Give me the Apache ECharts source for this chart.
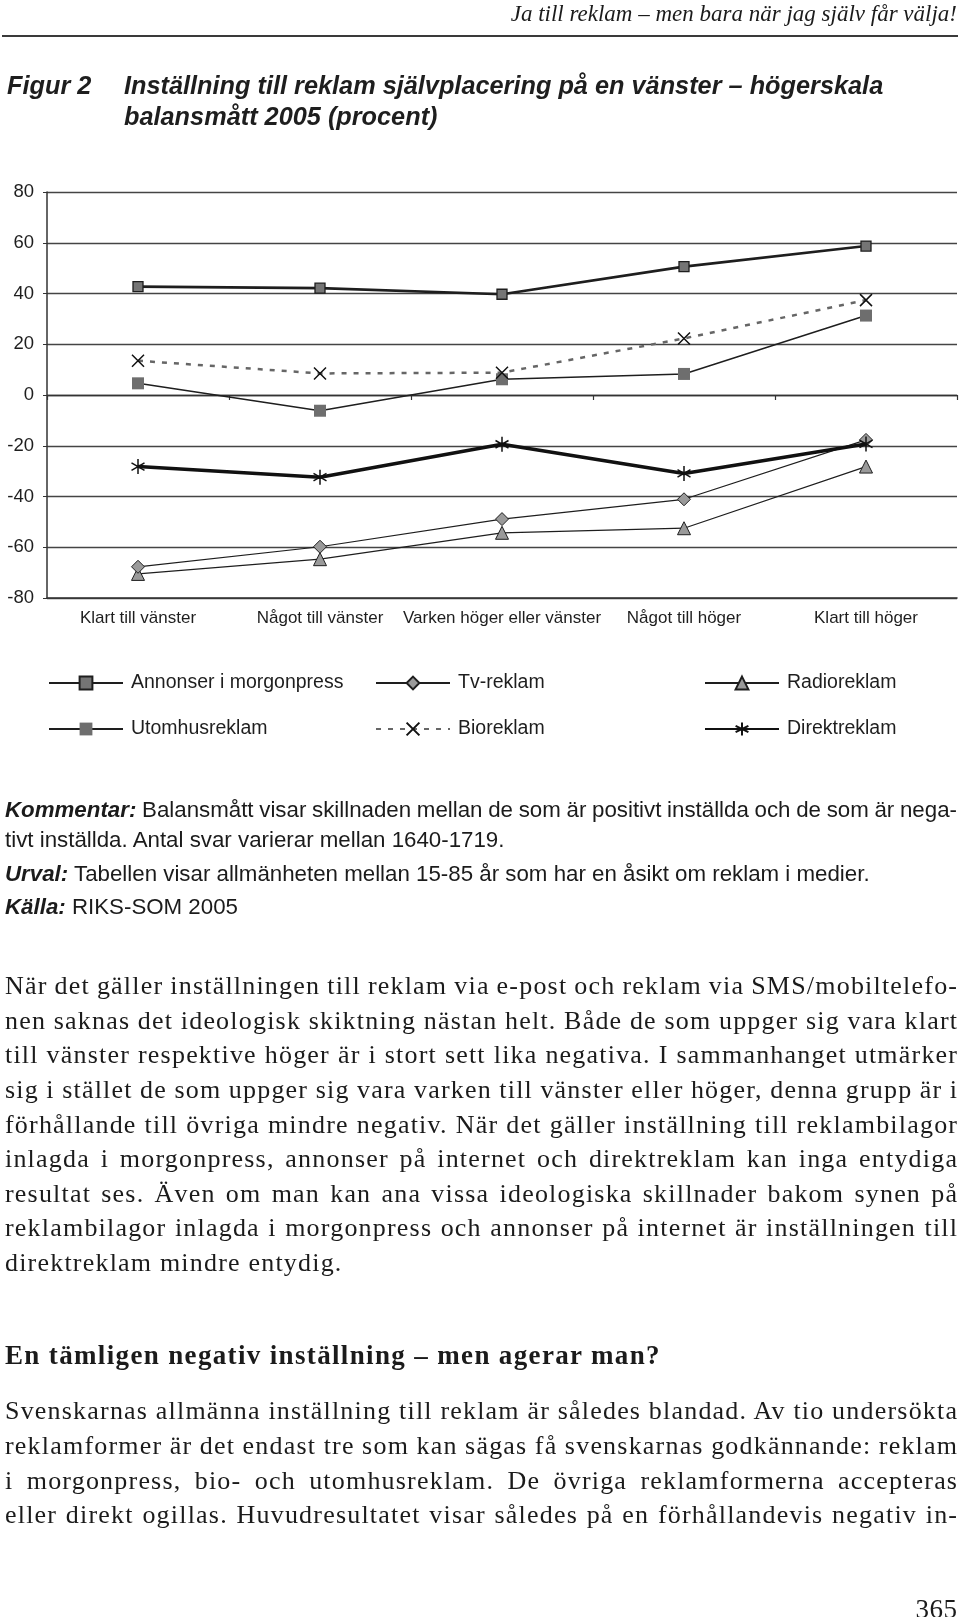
<!DOCTYPE html>
<html lang="sv"><head><meta charset="utf-8">
<title>Figur 2</title>
<script src="https://cdn.jsdelivr.net/npm/echarts@6.0.0/dist/echarts.min.js"></script>
<style>
html,body{margin:0;padding:0;background:#fff;}
#page{position:relative;width:960px;height:1617px;overflow:hidden;background:#fff;}
#chart{position:absolute;left:0;top:0;width:960px;height:1617px;}
.tx{position:absolute;white-space:nowrap;color:#1b1b1b;}
#rule{position:absolute;left:2px;top:35px;width:956px;height:2px;background:#3a3a3a;}
</style></head><body>
<div id="page"><div id="chart"></div><div id="rule"></div></div>
<script>
// ---- chart data ----
const categories = ['Klart till vänster', 'Något till vänster', 'Varken höger eller vänster', 'Något till höger', 'Klart till höger'];
const annonserMorgonpress = [42.7, 42.1, 39.7, 50.6, 58.7];
const tvReklam = [-67.7, -59.8, -48.9, -41.1, -17.7];
const radioReklam = [-70.5, -64.7, -54.3, -52.5, -28.2];
const utomhusReklam = [4.6, -6.2, 6.2, 8.3, 31.3];
const bioReklam = [13.5, 8.5, 8.8, 22.3, 37.4];
const direktReklam = [-28.2, -32.4, -19.4, -30.9, -19.3];
const yMin = -80, yMax = 80, yStep = 20;

const seriesNames = ['Annonser i morgonpress', 'Tv-reklam', 'Radioreklam', 'Utomhusreklam', 'Bioreklam', 'Direktreklam'];

// ---- page text ----
const headerText = 'Ja till reklam – men bara när jag själv får välja!';
const figLabel = 'Figur 2';
const figTitle = 'Inställning till reklam självplacering på en vänster – högerskala\nbalansmått 2005 (procent)';
const commentLines = [
  ['<b><i>Kommentar:</i></b> Balansmått visar skillnaden mellan de som är positivt inställda och de som är nega-', true],
  ['tivt inställda. Antal svar varierar mellan 1640-1719.', false],
  ['<b><i>Urval:</i></b> Tabellen visar allmänheten mellan 15-85 år som har en åsikt om reklam i medier.', false],
  ['<b><i>Källa:</i></b> RIKS-SOM 2005', false]
];
const para1 = [
  'När det gäller inställningen till reklam via e-post och reklam via SMS/mobiltelefo-',
  'nen saknas det ideologisk skiktning nästan helt. Både de som uppger sig vara klart',
  'till vänster respektive höger är i stort sett lika negativa. I sammanhanget utmärker',
  'sig i stället de som uppger sig vara varken till vänster eller höger, denna grupp är i',
  'förhållande till övriga mindre negativ. När det gäller inställning till reklambilagor',
  'inlagda i morgonpress, annonser på internet och direktreklam kan inga entydiga',
  'resultat ses. Även om man kan ana vissa ideologiska skillnader bakom synen på',
  'reklambilagor inlagda i morgonpress och annonser på internet är inställningen till',
  'direktreklam mindre entydig.'
];
const heading = 'En tämligen negativ inställning – men agerar man?';
const para2 = [
  'Svenskarnas allmänna inställning till reklam är således blandad. Av tio undersökta',
  'reklamformer är det endast tre som kan sägas få svenskarnas godkännande: reklam',
  'i morgonpress, bio- och utomhusreklam. De övriga reklamformerna accepteras',
  'eller direkt ogillas. Huvudresultatet visar således på en förhållandevis negativ in-'
];
const pageNumber = '365';

// ---- text placement helpers ----
const page = document.getElementById('page');
const FONTS = {
  sans: { fam: '"Liberation Sans", Arial, sans-serif', k: 0.8465 },
  serif: { fam: '"Liberation Serif", "Times New Roman", serif', k: 0.8375 }
};
function place(html, o) {
  const d = document.createElement('div');
  d.className = 'tx';
  d.innerHTML = html;
  d.style.fontFamily = FONTS[o.font].fam;
  d.style.fontSize = o.size + 'px';
  d.style.lineHeight = o.size + 'px';
  if (o.weight) d.style.fontWeight = o.weight;
  if (o.style) d.style.fontStyle = o.style;
  if (o.ls) d.style.letterSpacing = o.ls + 'px';
  d.style.top = (o.base - FONTS[o.font].k * o.size) + 'px';
  d.style.left = (o.x || 0) + 'px';
  page.appendChild(d);
  const w = d.getBoundingClientRect().width - (o.ls || 0);
  if (o.justify) {
    const n = (d.textContent.match(/ /g) || []).length;
    if (n) d.style.wordSpacing = ((o.justify - w) / n) + 'px';
  }
  if (o.right !== undefined) d.style.left = (o.right - w) + 'px';
  return d;
}

place(headerText, { right: 957, base: 21, font: 'serif', size: 23, style: 'italic' });

const cBase = [818, 848, 882, 915];
commentLines.forEach((l, i) => place(l[0], { x: 5, base: cBase[i], font: 'sans', size: 22.3, justify: l[1] ? 952 : 0 }));

const PS = 26, PLS = 1.2;
para1.forEach((t, i) => place(t, { x: 5, base: 995 + i * 34.6, font: 'serif', size: PS, ls: PLS, justify: i < para1.length - 1 ? 952 : 0 }));
place(heading, { x: 5, base: 1365, font: 'serif', size: 27, weight: 'bold', ls: 1.35 });
para2.forEach((t, i) => place(t, { x: 5, base: 1420 + i * 34.7, font: 'serif', size: PS, ls: PLS, justify: 952 }));
place(pageNumber, { right: 957, base: 1619, font: 'serif', size: 27, ls: 0.5 });

// ---- chart ----
const INK = '#1e1e1e';
const FONT = '"Liberation Sans", Arial, sans-serif';
const xPath = 'path://M0,0L10,10M10,0L0,10';
const starPath = 'path://M5,0L5,10M0.67,2.5L9.33,7.5M9.33,2.5L0.67,7.5';

const styles = {
  'Annonser i morgonpress': { data: annonserMorgonpress, symbol: 'rect', symbolSize: 10,
    lineStyle: { color: INK, width: 2.6 }, itemStyle: { color: '#757575', borderColor: INK, borderWidth: 1.3 }, z: 6 },
  'Tv-reklam': { data: tvReklam, symbol: 'diamond', symbolSize: 13,
    lineStyle: { color: INK, width: 1.2 }, itemStyle: { color: '#9a9a9a', borderColor: INK, borderWidth: 1 }, z: 4 },
  'Radioreklam': { data: radioReklam, symbol: 'triangle', symbolSize: 13,
    lineStyle: { color: INK, width: 1.2 }, itemStyle: { color: '#9a9a9a', borderColor: INK, borderWidth: 1 }, z: 3 },
  'Utomhusreklam': { data: utomhusReklam, symbol: 'rect', symbolSize: 12,
    lineStyle: { color: INK, width: 1.5 }, itemStyle: { color: '#6e6e6e', borderWidth: 0 }, z: 4 },
  'Bioreklam': { data: bioReklam, symbol: xPath, symbolSize: 12,
    lineStyle: { color: '#666', width: 2.5, type: [5, 7] }, itemStyle: { color: 'none', borderColor: '#111', borderWidth: 1.5 }, z: 5 },
  'Direktreklam': { data: direktReklam, symbol: starPath, symbolSize: 15,
    lineStyle: { color: '#111', width: 3.6 }, itemStyle: { color: 'none', borderColor: '#111', borderWidth: 1.5 }, z: 5 }
};

const series = seriesNames.map(n => Object.assign({
  name: n, type: 'line', xAxisIndex: 0, yAxisIndex: 0, showSymbol: true, symbolKeepAspect: true
}, styles[n]));

const legendPos = [[48, 673], [375, 673], [704, 673], [48, 719], [375, 719], [704, 719]];
const legends = seriesNames.map((n, i) => ({
  data: [n], left: legendPos[i][0], top: legendPos[i][1], orient: 'horizontal',
  itemWidth: 74, itemHeight: 16, padding: 0, itemGap: 0, selectedMode: false,
  textStyle: { fontSize: 19.5, color: INK, fontFamily: FONT, lineHeight: 20, padding: [0, 0, 0, 3] }
}));

const chart = echarts.init(document.getElementById('chart'), null, { renderer: 'canvas' });
chart.setOption({
  animation: false,
  backgroundColor: 'transparent',
  title: [
    { text: figLabel, left: 7, top: 72, padding: 0,
      textStyle: { fontSize: 25.3, fontWeight: 'bold', fontStyle: 'italic', fontFamily: FONT, color: INK, lineHeight: 30.5 } },
    { text: figTitle, left: 124, top: 72, padding: 0,
      textStyle: { fontSize: 25.3, fontWeight: 'bold', fontStyle: 'italic', fontFamily: FONT, color: INK, lineHeight: 30.5 } }
  ],
  legend: legends,
  grid: { left: 47, right: 3, top: 192, bottom: 1617 - 598, containLabel: false },
  xAxis: [
    { type: 'category', data: categories, position: 'bottom', boundaryGap: true,
      axisLine: { onZero: false, lineStyle: { color: '#333', width: 1.6 } },
      axisTick: { show: false },
      axisLabel: { interval: 0, fontSize: 17, color: INK, fontFamily: FONT, margin: 12 },
      splitLine: { show: false } },
    { type: 'category', data: categories, position: 'top', boundaryGap: true,
      axisLine: { onZero: true, lineStyle: { color: '#333', width: 1.3 } },
      axisTick: { show: true, inside: true, length: 5, lineStyle: { color: '#333', width: 1.2 } },
      axisLabel: { show: false }, splitLine: { show: false } }
  ],
  yAxis: {
    type: 'value', min: yMin, max: yMax, interval: yStep,
    axisLine: { show: true, lineStyle: { color: '#333', width: 1.5 } },
    axisTick: { show: true, length: 4, lineStyle: { color: '#333' } },
    axisLabel: { fontSize: 18.5, color: INK, fontFamily: FONT, margin: 13 },
    splitLine: { show: true, lineStyle: { color: '#444', width: 1.3 } }
  },
  series: series
});
</script>
</body></html>
